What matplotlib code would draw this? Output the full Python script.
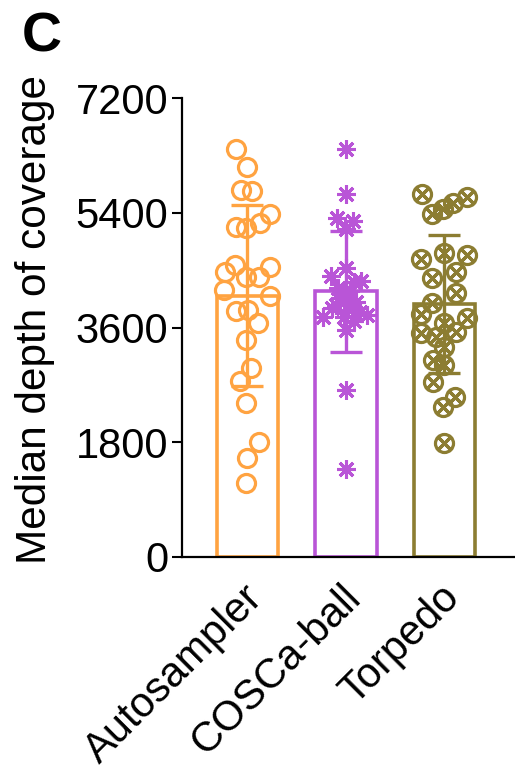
import numpy as np
import matplotlib
matplotlib.use("Agg")
import matplotlib.pyplot as plt

plt.rcParams['font.family'] = ['Liberation Sans', 'DejaVu Sans']

categories = ["Autosampler", "COSCa-ball", "Torpedo"]
colors = ["#FFA341", "#B955D7", "#8C7D32"]

means = [4100, 4170, 3970]
sds = [1420, 950, 1083]

auto_vals = [6395, 6122, 5757, 5741, 5375, 5244, 5181, 5156, 4580, 4475,
             4544, 4397, 4397, 4188, 4099, 3859, 3874, 3675, 3404, 2969,
             2765, 2420, 1809, 1548, 1156]
auto_jit = [-11.5, 0, -6.5, 5, 22.5, 12.5, -11.5, -1, -12.5, -22.5,
            23, -1, 12, -23.5, 22.5, -11.5, 1, 11, -1, 4,
            -7, -1, 12, 0, -1]

cosca_vals = [6400, 5690, 5310, 5270, 5150, 4540, 4410, 4330, 4310, 4220,
              4180, 4100, 4060, 4000, 3960, 3910, 3900, 3850, 3800, 3770,
              3760, 3700, 3560, 2620, 1380]
cosca_jit = [0, 0, -8.5, 7, 0, 0, -15, 15, 8, -8,
             4, -3, -6, 10, -10, -14, 6, 14, 21, -23,
             -2, 8, 0, 0, 0]

torp_vals = [5689, 5376, 5454, 5548, 5642, 4764, 4670, 4737, 4381, 4475,
             4136, 3980, 3812, 3744, 3666, 3509, 3534, 3456, 3299, 3090,
             3012, 2740, 2514, 2348, 1783]
torp_jit = [-22, -12, -1, 9, 23, 0, -23, 23, -12, 11.5,
            11.5, -12, -23.5, 23, 0, -23, 12, -8, 0, -11,
            0, -11, 10.5, -1, 0]

yticks = [0, 1800, 3600, 5400, 7200]

W, H = 515, 782
fig = plt.figure(figsize=(W / 100, H / 100), dpi=100)
ax = fig.add_axes([182 / W, 1 - 557 / H, 333 / W, 459 / H])

x = np.arange(len(categories))
px_per_unit = 98.5

ax.bar(x, means, width=0.62, facecolor="white", edgecolor=colors,
       linewidth=2.6, zorder=1)
for i in range(3):
    ax.errorbar(x[i], means[i], yerr=sds[i], fmt="none", ecolor=colors[i],
                elinewidth=2.4, capsize=11.5, capthick=2.4, zorder=2)

ax.plot(x[0] + np.array(auto_jit) / px_per_unit, auto_vals, linestyle="none",
        marker="o", ms=13, mfc="none", mec=colors[0], mew=2.3, zorder=3)
ax.plot(x[1] + np.array(cosca_jit) / px_per_unit, cosca_vals, linestyle="none",
        marker=(8, 2, 0), ms=13.5, mfc="none", mec=colors[1], mew=2.2, zorder=3)
ax.plot(x[2] + np.array(torp_jit) / px_per_unit, torp_vals, linestyle="none",
        marker="o", ms=13, mfc="none", mec=colors[2], mew=2.3, zorder=3)
ax.plot(x[2] + np.array(torp_jit) / px_per_unit, torp_vals, linestyle="none",
        marker=(4, 2, 45), ms=13, mfc="none", mec=colors[2], mew=2.3, zorder=3)

ax.set_xlim(-0.665, 2.716)
ax.set_ylim(0, 7200)
ax.set_yticks(yticks)
ax.set_yticklabels([str(v) for v in yticks], fontsize=30)
# tick marks are invisible; labels are anchored a little right of bar centres
ax.set_xticks(x + 9 / px_per_unit)
ax.set_xticklabels(categories, fontsize=30, rotation=45, ha="right",
                   va="center", rotation_mode="anchor")
ax.tick_params(axis="x", length=0, pad=25)
ax.tick_params(axis="y", length=7, width=1.5, pad=3)
for s in ["top", "right"]:
    ax.spines[s].set_visible(False)
for s in ["left", "bottom"]:
    ax.spines[s].set_linewidth(1.6)
ax.set_ylabel("Median depth of coverage", fontsize=30.4)
ax.yaxis.set_label_coords(-(182 - 55) / 333, 0.5 + 7.5 / 459)

fig.text(22 / W, 1 - 52 / H, "C", fontsize=40, fontweight="bold")

fig.savefig("out.png", dpi=100)
